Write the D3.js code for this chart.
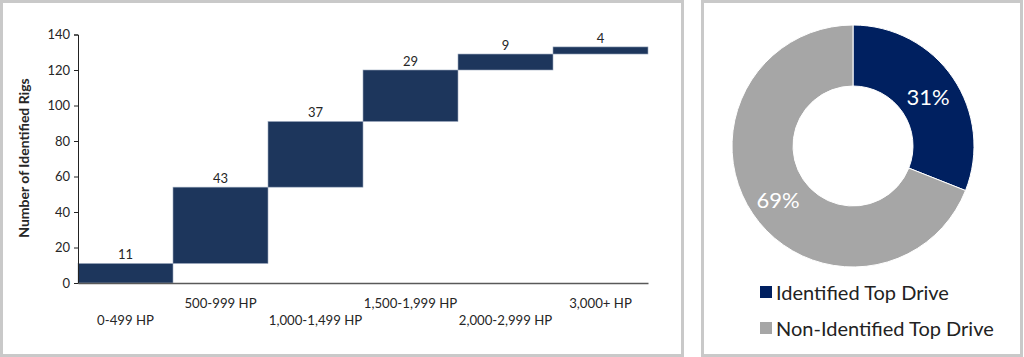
<!DOCTYPE html>
<html><head><meta charset="utf-8">
<script src="https://cdn.jsdelivr.net/npm/d3@7"></script>
<style>
html,body{margin:0;padding:0;background:#fff;}
svg{display:block;font-family:Lato,"Open Sans",sans-serif;}
</style></head>
<body>
<svg id="c" width="1024" height="357"></svg>
<script>
const categories = ["0-499 HP","500-999 HP","1,000-1,499 HP","1,500-1,999 HP","2,000-2,999 HP","3,000+ HP"];
const values = [11, 43, 37, 29, 9, 4];
const yTicks = [0, 20, 40, 60, 80, 100, 120, 140];
const yLabel = "Number of Identified Rigs";
const donutLabels = ["Identified Top Drive", "Non-Identified Top Drive"];
const donutValues = [31, 69];
const donutColors = ["#002060", "#a6a6a6"];

const svg = d3.select("#c");

// panel frames
svg.append("rect").attr("x",1.5).attr("y",1.5).attr("width",681).attr("height",354)
  .attr("fill","#fff").attr("stroke","#c9c9c9").attr("stroke-width",3);
svg.append("rect").attr("x",702.5).attr("y",1.5).attr("width",319).attr("height",354)
  .attr("fill","#fff").attr("stroke","#c9c9c9").attr("stroke-width",3);

// waterfall
const x = d3.scaleBand().domain(categories).range([78, 648]).padding(0);
const y = d3.scaleLinear().domain([0, 140]).range([283, 34.5]);
let cum = 0;
const bars = values.map((v, i) => { const b = {cat: categories[i], v, start: cum, end: cum + v}; cum += v; return b; });

const g = svg.append("g");
g.selectAll("rect.bar").data(bars).join("rect").attr("class","bar")
  .attr("x", d => x(d.cat)).attr("width", x.bandwidth())
  .attr("y", d => y(d.end)).attr("height", d => y(d.start) - y(d.end))
  .attr("fill", "#1d365c").attr("stroke", "#9aa8bd").attr("stroke-width", 0.6);

g.selectAll("text.val").data(bars).join("text").attr("class","val")
  .attr("x", d => x(d.cat) + x.bandwidth()/2).attr("y", d => y(d.end) - 4)
  .attr("text-anchor","middle").attr("font-size",13).attr("fill","#262626")
  .text(d => d.v);

// y axis
const yAxis = d3.axisLeft(y).tickValues(yTicks).tickSize(4).tickPadding(4);
const ya = svg.append("g").attr("transform","translate(78,0)").call(yAxis);
ya.select(".domain").attr("stroke","#222").attr("stroke-width",1);
ya.selectAll(".tick line").attr("stroke","#222");
ya.selectAll(".tick text").attr("font-size",13).attr("fill","#262626").attr("font-family","Lato");

// x axis line and staggered labels
const xa = svg.append("g").attr("transform","translate(0,283)")
  .call(d3.axisBottom(x).tickSize(0).tickPadding(0));
xa.select(".domain").attr("stroke","#595959").attr("stroke-width",1.6);
xa.selectAll(".tick text").attr("font-size",13.2).attr("fill","#262626").attr("font-family","Lato")
  .attr("dy", null)
  .attr("y", (d, i) => i % 2 === 0 ? 42 : 25);

svg.append("text").attr("transform","translate(29,158) rotate(-90)")
  .attr("text-anchor","middle").attr("font-size",14).attr("font-weight","bold").attr("fill","#262626")
  .text(yLabel);

// donut
const cx = 853, cy = 146;
const pie = d3.pie().sort(null).value(d => d)(donutValues);
const arc = d3.arc().innerRadius(60).outerRadius(121);
const dg = svg.append("g").attr("transform", `translate(${cx},${cy})`);
dg.selectAll("path").data(pie).join("path").attr("d", arc)
  .attr("fill", (d, i) => donutColors[i]).attr("stroke","#fff").attr("stroke-width",1);
const labPos = [[75, -50], [-75, 53]];
dg.selectAll("text").data(pie).join("text")
  .attr("x", (d, i) => labPos[i][0]).attr("y", (d, i) => labPos[i][1])
  .attr("text-anchor","middle").attr("dominant-baseline","central")
  .attr("font-size",22).attr("fill","#fff")
  .text(d => d.data + "%");

// legend
const lg = svg.append("g");
donutLabels.forEach((t, i) => {
  const yy = 292 + i * 36;
  lg.append("rect").attr("x", 760).attr("y", yy - 6).attr("width", 12).attr("height", 12).attr("fill", donutColors[i]);
  lg.append("text").attr("x", 776).attr("y", yy).attr("dominant-baseline","central")
    .attr("font-size", 20).attr("fill","#222").text(t);
});
</script>
</body></html>
